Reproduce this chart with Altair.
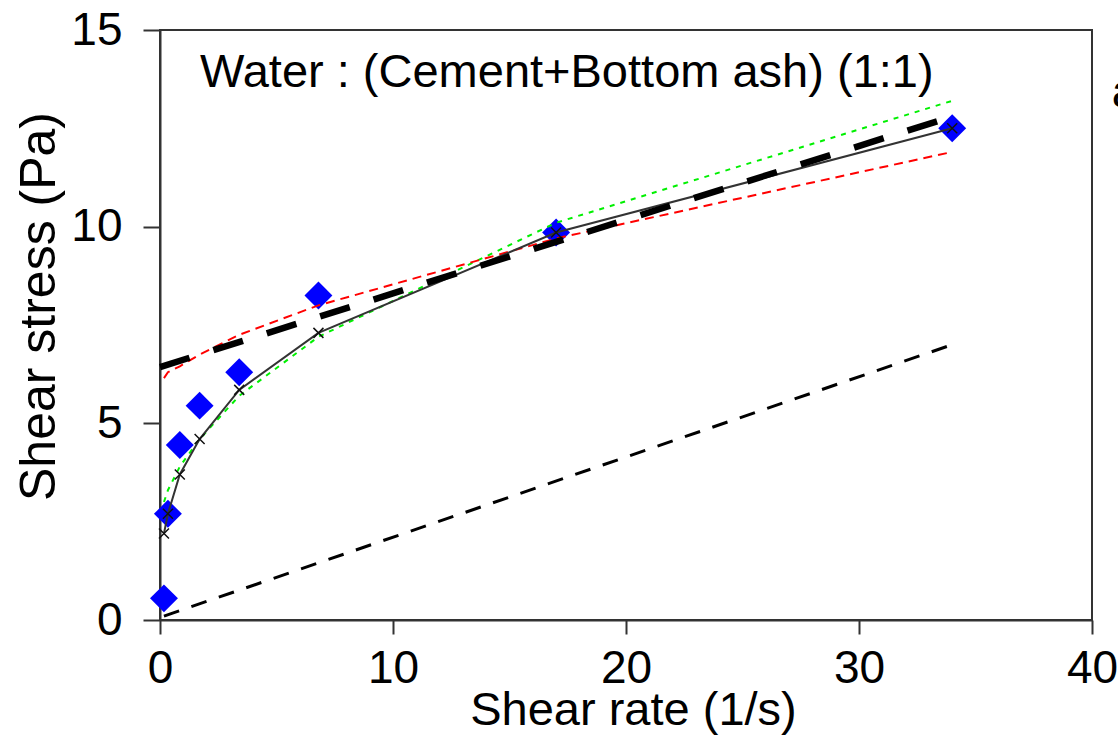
import altair as alt
import pandas as pd

# Measured flow curve (shear rate in 1/s, shear stress in Pa)
shear_rate = [0.17, 0.34, 0.85, 1.7, 3.4, 6.8, 17, 34]
measured_stress = [0.55, 2.7, 4.45, 5.45, 6.3, 8.25, 9.85, 12.5]

# Model curves evaluated at the measured shear rates
model_black = [2.2, 2.7, 3.7, 4.6, 5.85, 7.3, 9.85, 12.5]
model_green = [3.0, 3.3, 3.9, 4.6, 5.7, 7.2, 10.1, 13.2]
model_red = [6.15, 6.3, 6.45, 6.75, 7.25, 8.0, 9.7, 11.9]

# Straight-line fits
bingham_rate = [0, 34]
bingham_stress = [6.43, 12.8]
newton_rate = [0.17, 34]
newton_stress = [0.1, 7.0]

# Annotation
note_text = ["Water : (Cement+Bottom ash) (1:1)"]
note_x = [1.72]
note_y = [13.55]
edge_text = ["a"]
edge_x = [40.85]
edge_y = [13.05]

FONT = "Liberation Sans"

measured = pd.DataFrame({"rate": shear_rate, "stress": measured_stress})
black = pd.DataFrame({"rate": shear_rate, "stress": model_black})
green = pd.DataFrame({"rate": shear_rate, "stress": model_green})
red = pd.DataFrame({"rate": shear_rate, "stress": model_red})
bingham = pd.DataFrame({"rate": bingham_rate, "stress": bingham_stress})
newton = pd.DataFrame({"rate": newton_rate, "stress": newton_stress})
note = pd.DataFrame({"rate": note_x, "stress": note_y, "label": note_text})
edge = pd.DataFrame({"rate": edge_x, "stress": edge_y, "label": edge_text})

x_enc = alt.X(
    "rate:Q",
    scale=alt.Scale(domain=[0, 40], nice=False, zero=False),
    axis=alt.Axis(
        values=[0, 10, 20, 30, 40],
        title="Shear rate (1/s)",
        grid=False,
        tickSize=14,
        tickWidth=2,
        tickColor="#333",
        domainColor="#333",
        domainWidth=2,
        labelFont=FONT,
        labelFontSize=46,
        labelColor="black",
        labelPadding=12,
        labelFlush=False,
        titleFont=FONT,
        titleFontSize=47,
        titleFontWeight="normal",
        titleColor="black",
        titleX=473,
        titleY=104,
        titleBaseline="alphabetic",
        titleAlign="center",
    ),
)
y_enc = alt.Y(
    "stress:Q",
    scale=alt.Scale(domain=[0, 15], nice=False, zero=False),
    axis=alt.Axis(
        values=[0, 5, 10, 15],
        title="Shear stress (Pa)",
        grid=False,
        tickSize=17,
        tickWidth=2,
        tickColor="#333",
        domainColor="#333",
        domainWidth=2,
        labelFont=FONT,
        labelFontSize=46,
        labelColor="black",
        labelPadding=21,
        labelFlush=False,
        titleFont=FONT,
        titleFontSize=50,
        titleFontWeight="normal",
        titleColor="black",
        titleAngle=270,
        titleX=-106,
        titleY=276,
        titleBaseline="alphabetic",
        titleAlign="center",
    ),
)

points = alt.Chart(measured).mark_point(
    shape="diamond", filled=True, color="#0000FF", size=780, opacity=1
).encode(x=x_enc, y=y_enc)

green_line = alt.Chart(green).mark_line(
    color="#00F000", strokeWidth=2, strokeDash=[5, 6]
).encode(x="rate:Q", y="stress:Q")

red_line = alt.Chart(red).mark_line(
    color="#FF0000", strokeWidth=2, strokeDash=[9, 6]
).encode(x="rate:Q", y="stress:Q")

black_line = alt.Chart(black).mark_line(
    color="#333", strokeWidth=2
).encode(x="rate:Q", y="stress:Q")

black_marks = alt.Chart(black).mark_point(
    shape="M-1,-1L1,1M-1,1L1,-1", filled=False, color="#111",
    strokeWidth=1.5, size=100, opacity=1
).encode(x="rate:Q", y="stress:Q")

bingham_line = alt.Chart(bingham).mark_line(
    color="black", strokeWidth=6.5, strokeDash=[31, 25], strokeCap="butt"
).encode(x="rate:Q", y="stress:Q")

newton_line = alt.Chart(newton).mark_line(
    color="black", strokeWidth=3, strokeDash=[16, 13], strokeCap="butt"
).encode(x="rate:Q", y="stress:Q")

note_mark = alt.Chart(note).mark_text(
    font=FONT, fontSize=47, align="left", baseline="alphabetic", color="black"
).encode(x="rate:Q", y="stress:Q", text="label:N")

edge_mark = alt.Chart(edge).mark_text(
    font=FONT, fontSize=46, align="left", baseline="alphabetic", color="black"
).encode(x="rate:Q", y="stress:Q", text="label:N")

chart = alt.layer(
    points, green_line, red_line, black_line, black_marks,
    bingham_line, newton_line, note_mark, edge_mark
).properties(
    width=932,
    height=590,
    autosize=alt.AutoSizeParams(type="none"),
    padding={"left": 160, "top": 30, "right": 26, "bottom": 133},
    background="white",
).configure_view(
    stroke="#333", strokeWidth=2
)

chart.save("out.html", embed_options={"renderer": "svg", "actions": False})
